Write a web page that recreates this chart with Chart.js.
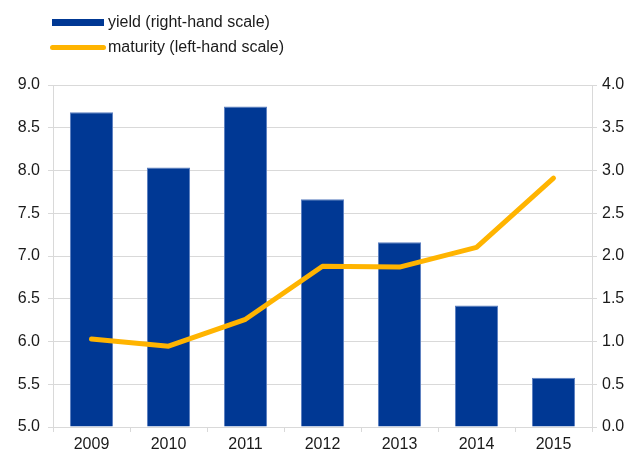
<!DOCTYPE html>
<html>
<head>
<meta charset="utf-8">
<script src="https://cdn.jsdelivr.net/npm/chart.js@4"></script>
<style>
  html, body { margin: 0; padding: 0; background: #fff; }
  #wrap { position: relative; width: 630px; height: 452px; }
  #legend { position: absolute; left: 0; top: 0; font: 16px "Liberation Sans", Arial, sans-serif; color: #1a1a1a; }
  .item { position: absolute; white-space: nowrap; }
  .item span { position: absolute; left: 108px; top: -10px; }
  .swatch { position: absolute; }
</style>
</head>
<body>
<div id="wrap">
  <canvas id="chart" width="630" height="452"></canvas>
  <div id="legend">
    <div class="item" style="top:23px">
      <div class="swatch" style="left:52px; top:-4px; width:52px; height:7px; background:#003894"></div>
      <span>yield (right-hand scale)</span>
    </div>
    <div class="item" style="top:48px">
      <div class="swatch" style="left:50px; top:-3px; width:56px; height:5px; border-radius:3px; background:#FFB400"></div>
      <span>maturity (left-hand scale)</span>
    </div>
  </div>
</div>
<script>
const years = ['2009', '2010', '2011', '2012', '2013', '2014', '2015'];
const yieldValues = [3.68, 3.035, 3.75, 2.665, 2.16, 1.42, 0.575];
const maturityValues = [6.03, 5.945, 6.26, 6.88, 6.87, 7.10, 7.91];

const tickFont = { family: '"Liberation Sans", Arial, sans-serif', size: 16 };

new Chart(document.getElementById('chart').getContext('2d'), {
    data: {
        labels: years,
        datasets: [
            {
                type: 'line',
                label: 'maturity (left-hand scale)',
                data: maturityValues,
                yAxisID: 'y',
                borderColor: '#FFB400',
                borderWidth: 5,
                borderCapStyle: 'round',
                borderJoinStyle: 'round',
                pointRadius: 0,
                tension: 0,
                order: 0
            },
            {
                type: 'bar',
                label: 'yield (right-hand scale)',
                data: yieldValues,
                yAxisID: 'y1',
                backgroundColor: '#003894',
                borderColor: '#5b7fc0',
                borderWidth: 1,
                categoryPercentage: 1,
                barPercentage: 0.56,
                order: 1
            }
        ]
    },
    options: {
        responsive: false,
        animation: false,
        layout: { padding: { top: 85, left: 0, right: 0, bottom: 0 } },
        plugins: {
            legend: { display: false },
            tooltip: { enabled: false }
        },
        scales: {
            x: {
                grid: { display: true, drawOnChartArea: false, color: '#d9d9d9', tickLength: 5 },
                border: { color: '#d9d9d9' },
                ticks: { color: '#1a1a1a', font: tickFont, padding: 3 },
                afterFit: function (scale) { scale.height = 25; }
            },
            y: {
                position: 'left',
                min: 5,
                max: 9,
                ticks: { stepSize: 0.5, color: '#1a1a1a', font: tickFont, padding: 8,
                    callback: v => v.toFixed(1) },
                grid: { color: '#d9d9d9', tickLength: 5 },
                border: { color: '#d9d9d9' },
                afterFit: function (scale) { scale.width = 53; }
            },
            y1: {
                position: 'right',
                min: 0,
                max: 4,
                ticks: { stepSize: 0.5, color: '#1a1a1a', font: tickFont, padding: 5,
                    callback: v => v.toFixed(1) },
                grid: { drawOnChartArea: false, color: '#d9d9d9', tickLength: 5 },
                border: { color: '#d9d9d9' },
                afterFit: function (scale) { scale.width = 38; }
            }
        }
    }
});
</script>
</body>
</html>
